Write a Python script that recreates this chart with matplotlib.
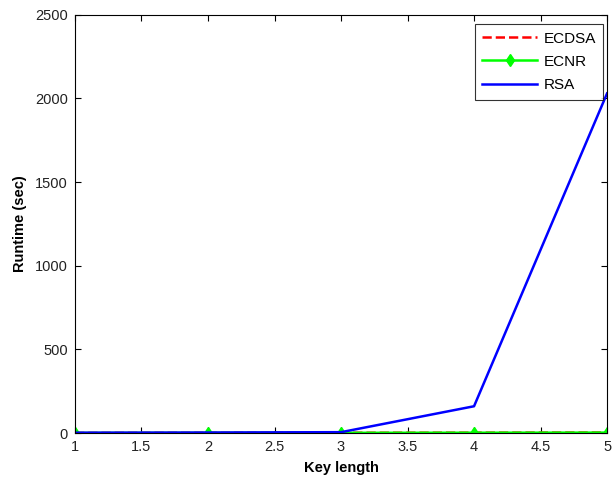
import matplotlib
matplotlib.use("Agg")
import matplotlib.pyplot as plt

key_length = [1, 2, 3, 4, 5]
ecdsa = [0.5, 1, 1.5, 2, 3]
ecnr = [0.4, 0.8, 1.2, 1.8, 2.5]
rsa = [2, 3, 5, 160, 2030]
xticks = [1, 1.5, 2, 2.5, 3, 3.5, 4, 4.5, 5]
xticklabels = ["1", "1.5", "2", "2.5", "3", "3.5", "4", "4.5", "5"]
yticks = [0, 500, 1000, 1500, 2000, 2500]

plt.rcParams['font.family'] = ['Liberation Sans', 'DejaVu Sans']

fig = plt.figure(figsize=(6.13, 4.78), dpi=100)
ax = fig.add_axes([0.1223, 0.0941, 0.868, 0.875])

ax.plot(key_length, ecdsa, color='red', linestyle='--', linewidth=1.8, label='ECDSA')
ax.plot(key_length, ecnr, color='#00ff00', linestyle='-', linewidth=1.8,
        marker='d', markersize=6, label='ECNR')
ax.plot(key_length, rsa, color='blue', linestyle='-', linewidth=1.8, label='RSA')

ax.set_xlim(1, 5)
ax.set_ylim(0, 2500)
ax.set_xticks(xticks)
ax.set_xticklabels(xticklabels)
ax.set_yticks(yticks)
ax.tick_params(direction='in', top=True, right=True, labelsize=10.5, length=4,
               width=0.8, pad=5, labelcolor='#222222')
for s in ax.spines.values():
    s.set_linewidth(0.8)

ax.set_xlabel('Key length', fontsize=10.5, fontweight='bold', labelpad=5)
ax.set_ylabel('Runtime (sec)', fontsize=10.5, fontweight='bold', labelpad=6)

leg = ax.legend(loc='upper right', bbox_to_anchor=(0.993, 0.978), fontsize=11,
                frameon=True, fancybox=False, edgecolor='black', borderpad=0.5,
                handlelength=3.6, labelspacing=0.6, handletextpad=0.4,
                borderaxespad=0.0)
leg.get_frame().set_linewidth(0.8)

fig.savefig('out.png', dpi=100)
